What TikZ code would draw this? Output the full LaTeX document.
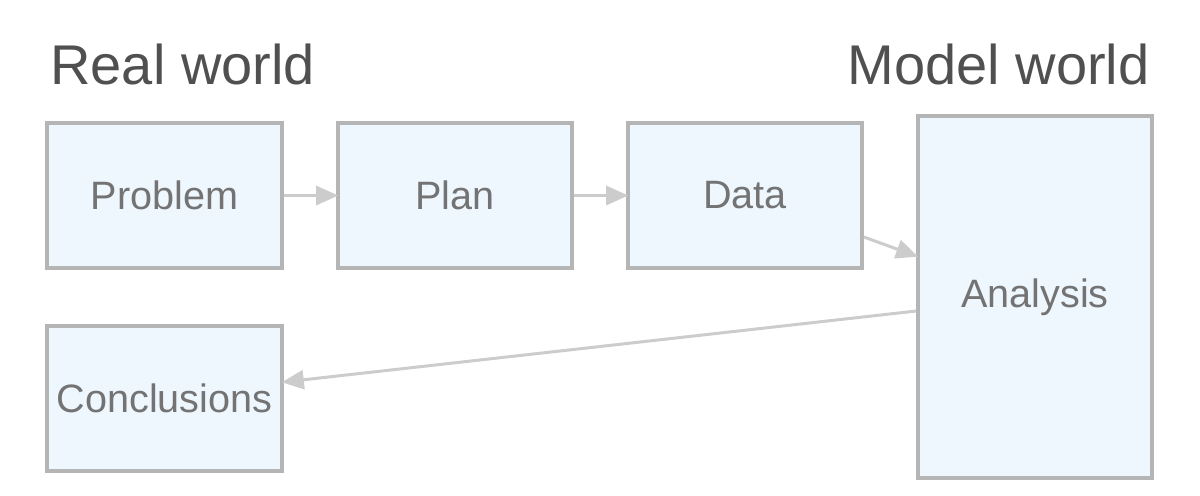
\documentclass[tikz,border=0pt]{standalone}
\usepackage{fontspec}
\setmainfont{Liberation Sans}
\usetikzlibrary{arrows.meta}
\definecolor{boxfill}{HTML}{EEF6FE}
\definecolor{boxline}{HTML}{B5B5B5}
\definecolor{arrowc}{HTML}{CCCCCC}
\definecolor{titlec}{HTML}{505050}
\definecolor{textc}{HTML}{737373}
\tikzset{
  stepbox/.style={draw=boxline, fill=boxfill, line width=1.8pt, text=textc, font=\fontsize{19.8}{22}\selectfont},
  conn/.style={draw=arrowc, line width=1.5pt, shorten >=-1pt, -{Triangle[length=11pt,width=9.5pt]}},
  ttl/.style={text=titlec, font=\fontsize{28}{31}\selectfont, inner sep=0pt}
}
\begin{document}
\begin{tikzpicture}[x=0.5pt,y=-0.5pt]
\useasboundingbox (0,0) rectangle (1200,495);
\node[ttl, anchor=base west] (rw) at (50,84) {Real world};
\node[ttl, anchor=base east] (mw) at (1150,84) {Model world};
\node[stepbox, minimum width=117.5pt, minimum height=72.5pt] (problem) at (164.5,195.5) {Problem};
\node[stepbox, minimum width=117pt, minimum height=72.5pt] (plan) at (455,195.5) {Plan};
\node[stepbox, minimum width=117pt, minimum height=72.5pt] (data) at (745,195.5) {Data};
\node[stepbox, minimum width=117pt, minimum height=181pt] (analysis) at (1035,297) {Analysis};
\node[stepbox, minimum width=117.5pt, minimum height=72.5pt, inner sep=0pt] (concl) at (164.5,398.5) {Conclusions};
\draw[conn] (problem.east) -- (plan.west);
\draw[conn] (plan.east) -- (data.west);
\draw[conn] (data.east |- 0,237) -- (analysis.west |- 0,256);
\draw[conn] (analysis.west |- 0,311) -- (concl.east |- 0,382);
\end{tikzpicture}
\end{document}
